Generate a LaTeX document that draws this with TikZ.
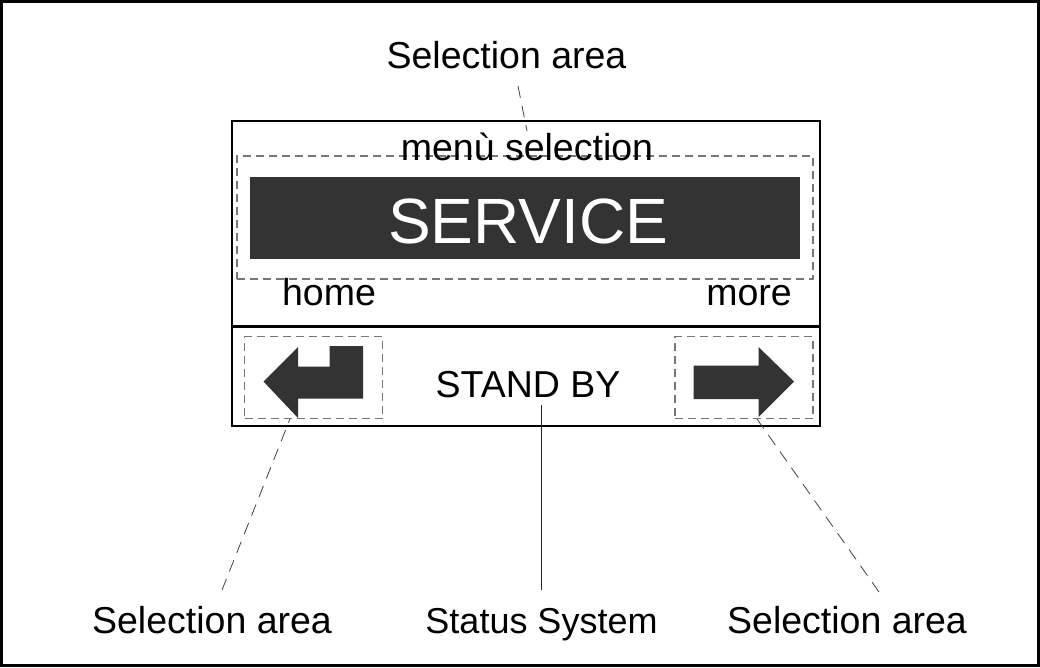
\documentclass[tikz,border=0pt]{standalone}
\usepackage{fontspec}
\setmainfont{Liberation Sans}
\definecolor{dark}{HTML}{333333}
\definecolor{dashgray}{HTML}{777777}
\begin{document}
\begin{tikzpicture}[x=1pt,y=-1pt,
  lbl/.style={font=\fontsize{37.5}{40}\selectfont, anchor=base, inner sep=0pt},
  boxnode/.style={inner sep=0pt, outer sep=0pt, anchor=north west},
  dashbox/.style={boxnode, draw=dashgray, dash pattern=on 8pt off 5pt, line width=1.1pt},
  lead/.style={draw=black!75, dash pattern=on 12pt off 8pt, line width=0.8pt},
  solidlead/.style={draw=black!85, line width=0.9pt},
  arrowshape/.style={fill=dark, draw=none}
]
\useasboundingbox (0,0) rectangle (1040,667);
\draw[line width=3pt] (1.5,1.5) rectangle (1038.5,665.5);

% display panel
\node[boxnode, draw, line width=2.8pt, minimum width=588pt, minimum height=305pt] (panel) at (232,121) {};
\coordinate (divL) at (232,326.5);
\coordinate (divR) at (820,326.5);
\draw[line width=2.8pt] (divL) -- (divR);

% upper selection area
\node[boxnode, fill=dark, minimum width=550pt, minimum height=82pt] (bar) at (250,177) {};
\node[dashbox, minimum width=576pt, minimum height=123pt] (topsel) at (237,156) {};
\node[font=\fontsize{64}{70}\selectfont, text=white, anchor=base, inner sep=0pt] (service) at (528,243) {SERVICE};
\node[lbl] (menu) at (527,160) {menù selection};
\node[lbl] (home) at (329,305) {home};
\node[lbl] (more) at (749,305) {more};

% lower row
\node[dashbox, minimum width=138pt, minimum height=82pt] (leftsel) at (244.5,336.5) {};
\node[dashbox, minimum width=138pt, minimum height=82pt] (rightsel) at (675,336.5) {};
\fill[arrowshape] (263.5,381.5) -- (298,347) -- (298,366.5) -- (329.5,366.5) -- (329.5,346)
  -- (363,346) -- (363,398.5) -- (298,398.5) -- (298,418) -- cycle;
\fill[arrowshape] (693.5,365.5) -- (758.5,365.5) -- (758.5,347) -- (794,381.5)
  -- (758.5,417) -- (758.5,399) -- (693.5,399) -- cycle;
\node[lbl] (standby) at (528,397) {STAND BY};

% labels
\node[lbl] (labtop) at (506.5,68) {Selection area};
\node[lbl] (labL) at (212,633) {Selection area};
\node[lbl, font=\fontsize{36}{40}\selectfont] (labS) at (541.5,633) {Status System};
\node[lbl] (labR) at (847,633) {Selection area};

% connector ends
\coordinate (topA) at (518,86);
\coordinate (topB) at (527,131);
\coordinate (lA) at (222,590);
\coordinate (lB) at (290,419);
\coordinate (sA) at (541,590);
\coordinate (sB) at (541,405);
\coordinate (rA) at (879,592);
\coordinate (rB) at (757,419);

\draw[lead] (topA) -- (topB);
\draw[lead] (lA) -- (lB);
\draw[solidlead] (sA) -- (sB);
\draw[lead] (rA) -- (rB);
\end{tikzpicture}
\end{document}
